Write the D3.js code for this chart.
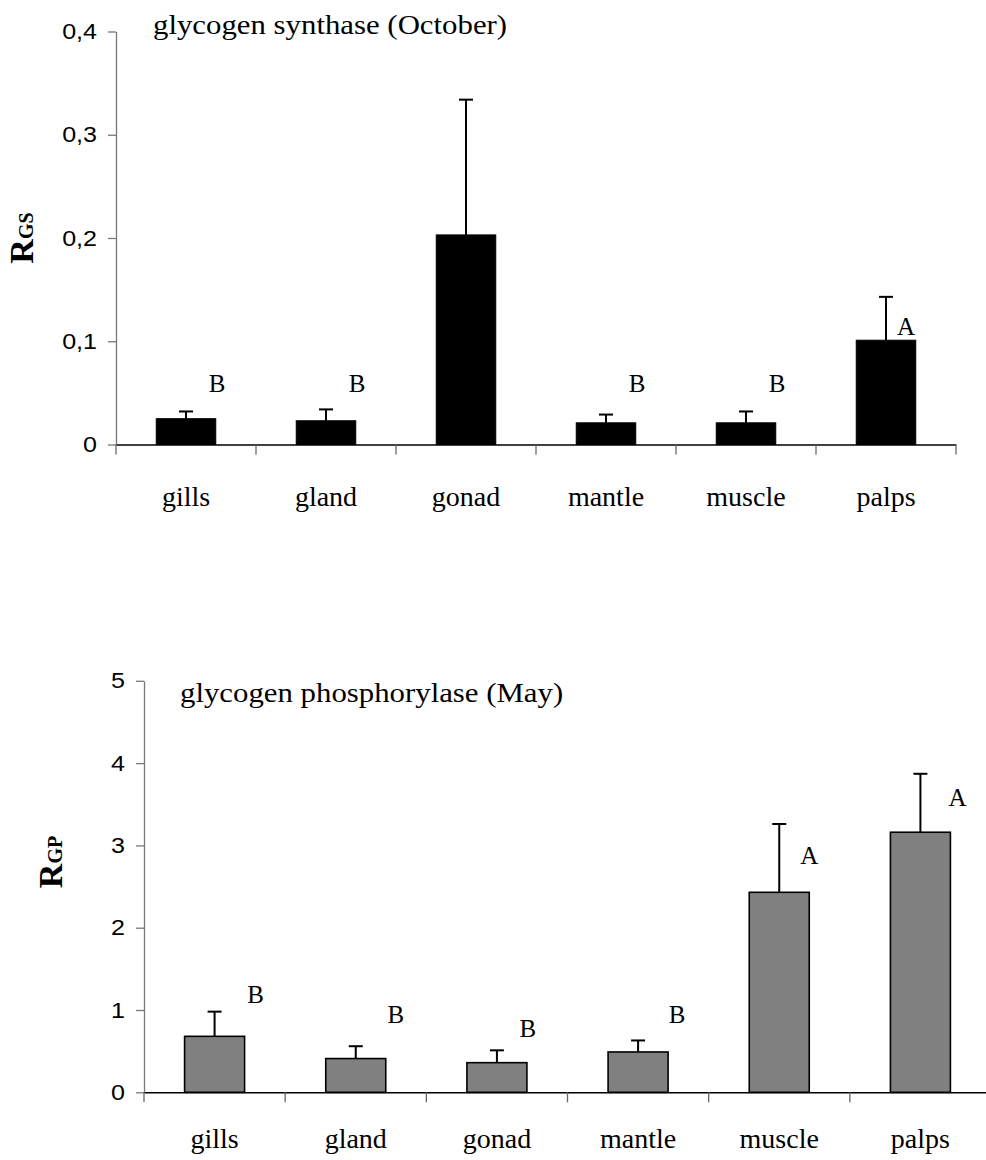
<!DOCTYPE html>
<html>
<head>
<meta charset="utf-8">
<script src="https://cdn.jsdelivr.net/npm/d3@7"></script>
<style>
  body { margin: 0; background: #fff; }
  svg { display: block; }
</style>
</head>
<body>
<svg id="chart" width="986" height="1160"></svg>
<script>
// categories shared by both panels
const tissues = ['gills', 'gland', 'gonad', 'mantle', 'muscle', 'palps']

// glycogen synthase, October
const gsMean = [0.025, 0.023, 0.203, 0.021, 0.021, 0.101]
const gsSd = [0.007, 0.011, 0.131, 0.008, 0.011, 0.042]
const gsLetters = ['B', 'B', '', 'B', 'B', 'A']
const gsLetterAt = [0.051, 0.051, 0, 0.051, 0.051, 0.106]
const gsTicks = [0, 0.1, 0.2, 0.3, 0.4]

// glycogen phosphorylase, May
const gpMean = [0.68, 0.41, 0.36, 0.49, 2.43, 3.16]
const gpSd = [0.30, 0.15, 0.15, 0.14, 0.83, 0.71]
const gpLetters = ['B', 'B', 'B', 'B', 'A', 'A']
const gpLetterAt = [1.08, 0.84, 0.67, 0.84, 2.78, 3.48]
const gpTicks = [0, 1, 2, 3, 4, 5]

const svg = d3.select('#chart')
const serif = '"Liberation Serif", "Times New Roman", serif'
const sans = '"Liberation Sans", Arial, sans-serif'

// the source figure is a little wider than tall, so widen some text
const stretch = (sel, k) => sel.each(function () {
  const len = this.getComputedTextLength()
  d3.select(this).attr('textLength', len * k).attr('lengthAdjust', 'spacingAndGlyphs')
})

const drawPanel = cfg => {
  const rows = tissues.map((t, i) => ({
    t, mean: cfg.mean[i], sd: cfg.sd[i], letter: cfg.letters[i], letterAt: cfg.letterAt[i], i
  }))

  const x = d3.scaleBand()
    .domain(tissues)
    .range([cfg.left, cfg.right])
    .paddingInner(0.575)
    .paddingOuter(0.2875)

  const y = d3.scaleLinear()
    .domain([0, d3.max(cfg.ticks)])
    .range([cfg.bottom, cfg.top])

  const g = svg.append('g')

  // bars
  g.selectAll('rect.bar')
    .data(rows)
    .enter()
    .append('rect')
    .attr('class', 'bar')
    .attr('x', d => x(d.t))
    .attr('y', d => y(d.mean))
    .attr('width', x.bandwidth())
    .attr('height', d => y(0) - y(d.mean))
    .attr('fill', cfg.fill)
    .attr('stroke', '#000')
    .attr('stroke-width', cfg.barStroke)

  // error bars (upper half only)
  const cx = d => x(d.t) + x.bandwidth() / 2
  const err = g.selectAll('g.err').data(rows).enter().append('g').attr('class', 'err')
  err.append('line')
    .attr('x1', cx).attr('x2', cx)
    .attr('y1', d => y(d.mean)).attr('y2', d => y(d.mean + d.sd))
    .attr('stroke', '#000').attr('stroke-width', 2)
  err.append('line')
    .attr('x1', d => cx(d) - 7).attr('x2', d => cx(d) + 7)
    .attr('y1', d => y(d.mean + d.sd)).attr('y2', d => y(d.mean + d.sd))
    .attr('stroke', '#000').attr('stroke-width', 2)

  // significance letters
  g.selectAll('text.letter')
    .data(rows.filter(d => d.letter))
    .enter()
    .append('text')
    .attr('class', 'letter')
    .attr('x', d => cx(d) + cfg.letterDx[d.i])
    .attr('y', d => y(d.letterAt))
    .attr('text-anchor', 'middle')
    .style('font-family', serif)
    .style('font-size', '25px')
    .text(d => d.letter)

  // y axis
  const yAxis = g.append('g')
    .attr('transform', `translate(${cfg.left},0)`)
    .call(d3.axisLeft(y).tickValues(cfg.ticks).tickFormat(cfg.fmt).tickSize(8).tickPadding(11).tickSizeOuter(0))
  yAxis.select('.domain').attr('stroke', '#777').attr('stroke-width', 1.3)
  yAxis.selectAll('.tick line').attr('stroke', '#777').attr('stroke-width', 1.3)
  yAxis.selectAll('text')
    .style('font-family', sans)
    .style('font-size', '22px')
    .attr('fill', '#000')
    .call(stretch, 1.14)

  // x axis: category labels centred, ticks on band boundaries
  const xAxis = g.append('g')
    .attr('transform', `translate(0,${y(0)})`)
    .call(d3.axisBottom(x).tickSize(0).tickPadding(cfg.labelPad).tickSizeOuter(0))
  xAxis.select('.domain').attr('stroke', '#000').attr('stroke-width', 1.5)
  xAxis.selectAll('text')
    .style('font-family', serif)
    .style('font-size', '28px')
    .attr('fill', '#000')

  const bounds = d3.range(tissues.length + 1).map(k => cfg.left + k * x.step())
  g.selectAll('line.xtick')
    .data(bounds)
    .enter()
    .append('line')
    .attr('class', 'xtick')
    .attr('x1', d => d).attr('x2', d => d)
    .attr('y1', y(0)).attr('y2', y(0) + 10)
    .attr('stroke', '#666').attr('stroke-width', 1.3)

  // panel title
  g.append('text')
    .attr('x', cfg.titleX)
    .attr('y', cfg.titleY)
    .style('font-family', serif)
    .style('font-size', '28px')
    .text(cfg.title)
    .call(stretch, 1.1)

  // y label: R followed by smaller GS / GP
  const lab = g.append('text')
    .attr('transform', `translate(${cfg.labX},${cfg.labY}) rotate(-90)`)
    .attr('text-anchor', 'middle')
    .style('font-family', serif)
    .style('font-weight', 'bold')
  lab.append('tspan').style('font-size', '34px').text('R')
  lab.append('tspan').style('font-size', '20px').text(cfg.sub)
}

svg.append('rect').attr('width', 986).attr('height', 1160).attr('fill', '#fff')

const commaFmt = d => (d === 0 ? '0' : d3.format('.1f')(d).replace('.', ','))

drawPanel({
  mean: gsMean, sd: gsSd, letters: gsLetters, letterAt: gsLetterAt, ticks: gsTicks,
  fmt: commaFmt, fill: '#000', barStroke: 1,
  left: 116, right: 956, top: 31.5, bottom: 444.5,
  labelPad: 42, letterDx: [31, 31, 31, 31, 31, 20],
  title: 'glycogen synthase (October)', titleX: 153, titleY: 34,
  sub: 'GS', labX: 33, labY: 238
})

drawPanel({
  mean: gpMean, sd: gpSd, letters: gpLetters, letterAt: gpLetterAt, ticks: gpTicks,
  fmt: d3.format('d'), fill: '#808080', barStroke: 1.6,
  left: 144, right: 991, top: 680.8, bottom: 1092.3,
  labelPad: 36, letterDx: [41, 40, 31, 39, 30, 37],
  title: 'glycogen phosphorylase (May)', titleX: 180, titleY: 702,
  sub: 'GP', labX: 62, labY: 862
})
</script>
</body>
</html>
